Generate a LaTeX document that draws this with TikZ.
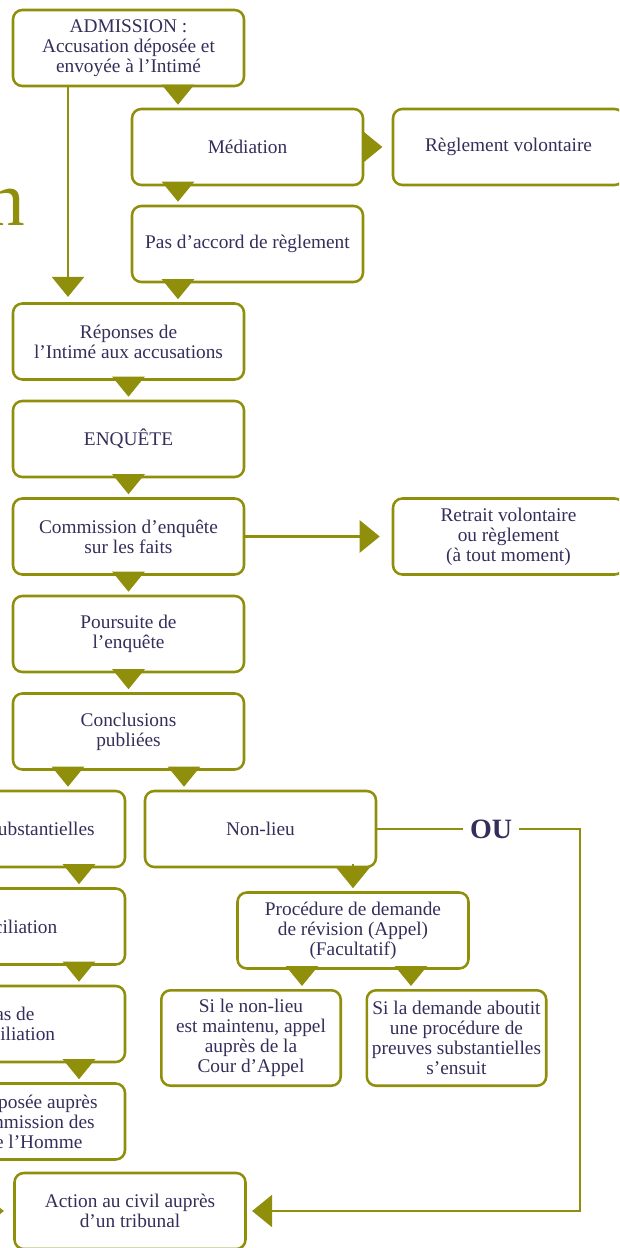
\documentclass[tikz,border=0pt]{standalone}
\usepackage{fontspec}
\setmainfont{Liberation Serif}
\usetikzlibrary{arrows.meta}
\definecolor{boxolive}{RGB}{143,143,12}
\definecolor{inktext}{RGB}{55,45,90}

\begin{document}
\begin{tikzpicture}[x=0.75pt, y=-0.75pt, >={Triangle[width=24pt,length=15pt]}, font=\fontsize{14.5}{15}\selectfont]

    \tikzset{%
    every stage/.style={
        draw=boxolive,
        line width=1.9pt,
        rounded corners=7pt,
        minimum width=173.25pt,
        minimum height=57pt,
        align=center,
        text=inktext,
        inner sep=1pt
        },
    small stage/.style={
        minimum width=134.6pt,
        minimum height=71.6pt
        },
    stage arrow/.style={
        ->,
        draw=boxolive,
        line width=1.9pt,
        shorten <=-3pt,
        shorten >=2.25pt
        },
    }

    \useasboundingbox (0,0) rectangle (619,1248);
    \clip (0,0) rectangle (619,1248);

    % Title letter at the page edge
    \node [text=boxolive, font=\fontsize{58}{58}\selectfont, anchor=base east, inner sep=0pt] (title) at (25,225) {n};

    % Top of the flow
    \node [every stage/.try] (admission) at (128.5,48) {ADMISSION :\\Accusation déposée et\\envoyée à l’Intimé};
    \node [every stage/.try] (mediation) at (247.5,147) {Médiation};
    \node [every stage/.try] (reglement) at (508.5,147) {Règlement volontaire};
    \node [every stage/.try] (pasaccord) at (247.5,244) {Pas d’accord de règlement};

    % Main column boxes
    \foreach \m/\l [count=\y] in {reponses/{Réponses de\\l’Intimé aux accusations}, enquete/ENQUÊTE, commission/{Commission d’enquête\\sur les faits}, poursuite/{Poursuite de\\l’enquête}, conclusions/{Conclusions\\publiées}}
    \node [every stage/.try] (\m) at (128.5,244+\y*97.5) {\l};

    \node [every stage/.try] (retrait) at (508.5,536.5) {Retrait volontaire\\ou règlement\\(à tout moment)};

    % Left branch boxes (cut by the page edge)
    \foreach \m/\l [count=\y] in {preuves/{Preuves substantielles}, conciliation/Conciliation, pasconcil/{Pas de\\conciliation}, plainte/{Plainte déposée auprès\\de la Commission des\\droits de l’Homme}}
    \node [every stage/.try] (\m) at (9.5,731.5+\y*97.5) {\l};

    % Right branch boxes
    \node [every stage/.try] (nonlieu) at (260.5,829) {Non-lieu};
    \node [every stage/.try] (procedure) at (353,930.5) {Procédure de demande\\de révision (Appel)\\(Facultatif)};
    \node [every stage/.try, small stage] (maintenu) at (251,1038) {Si le non-lieu\\est maintenu, appel\\auprès de la\\Cour d’Appel};
    \node [every stage/.try, small stage] (aboutit) at (456.5,1038) {Si la demande aboutit\\une procédure de\\preuves substantielles\\s’ensuit};
    \node [every stage/.try] (action) at (130,1211) {Action au civil auprès\\d’un tribunal};

    % OU label and return corner
    \node [text=inktext, font=\fontsize{21}{21}\selectfont\bfseries, inner sep=5pt] (ou) at (491,829) {OU};
    \coordinate (ou-corner) at (580,829);
    \coordinate (off-page) at (-60,1211);

    % Arrows down the main column
    \foreach \a/\b in {reponses/enquete, enquete/commission, commission/poursuite, poursuite/conclusions}
    \draw [stage arrow] (\a) -- (\b);

    % Arrows down the left branch
    \foreach \a/\b in {preuves/conciliation, conciliation/pasconcil, pasconcil/plainte}
    \draw [stage arrow] ([xshift=52.125pt]\a.south) -- ([xshift=52.125pt]\b.north);

    % Mediation loop
    \draw [stage arrow] ([xshift=37.125pt]admission.south) -- ([xshift=-52.125pt]mediation.north);
    \draw [stage arrow] ([xshift=-52.125pt]mediation.south) -- ([xshift=-52.125pt]pasaccord.north);
    \draw [stage arrow] ([xshift=-52.125pt]pasaccord.south) -- ([xshift=37.125pt]reponses.north);
    \draw [stage arrow, shorten <=0pt, shorten >=4pt] ([xshift=-45.375pt]admission.south) -- ([xshift=-45.375pt]reponses.north);
    \draw [stage arrow, shorten >=7pt] (mediation) -- (reglement);

    % Side exit and split after the conclusions
    \draw [stage arrow, shorten <=0pt, shorten >=9pt] (commission) -- (retrait);
    \draw [stage arrow] ([xshift=-45.375pt]conclusions.south) -- ([xshift=43.875pt]preuves.north);
    \draw [stage arrow] ([xshift=41.625pt]conclusions.south) -- ([xshift=-57.375pt]nonlieu.north);
    \draw [stage arrow] ([xshift=69.375pt]nonlieu.south) -- (procedure.north);
    \draw [stage arrow] ([xshift=-38.25pt]procedure.south) -- ([xshift=38.25pt]maintenu.north);
    \draw [stage arrow] ([xshift=43.5pt]procedure.south) -- ([xshift=-34.125pt]aboutit.north);

    % OU line back to the civil action
    \draw [boxolive, line width=1.9pt] (nonlieu) -- (ou);
    \draw [stage arrow, shorten <=0pt, shorten >=4pt] (ou) -- (ou-corner) |- (action);
    \draw [stage arrow, shorten <=0pt, shorten >=7pt] (off-page) -- (action);

\end{tikzpicture}
\end{document}
